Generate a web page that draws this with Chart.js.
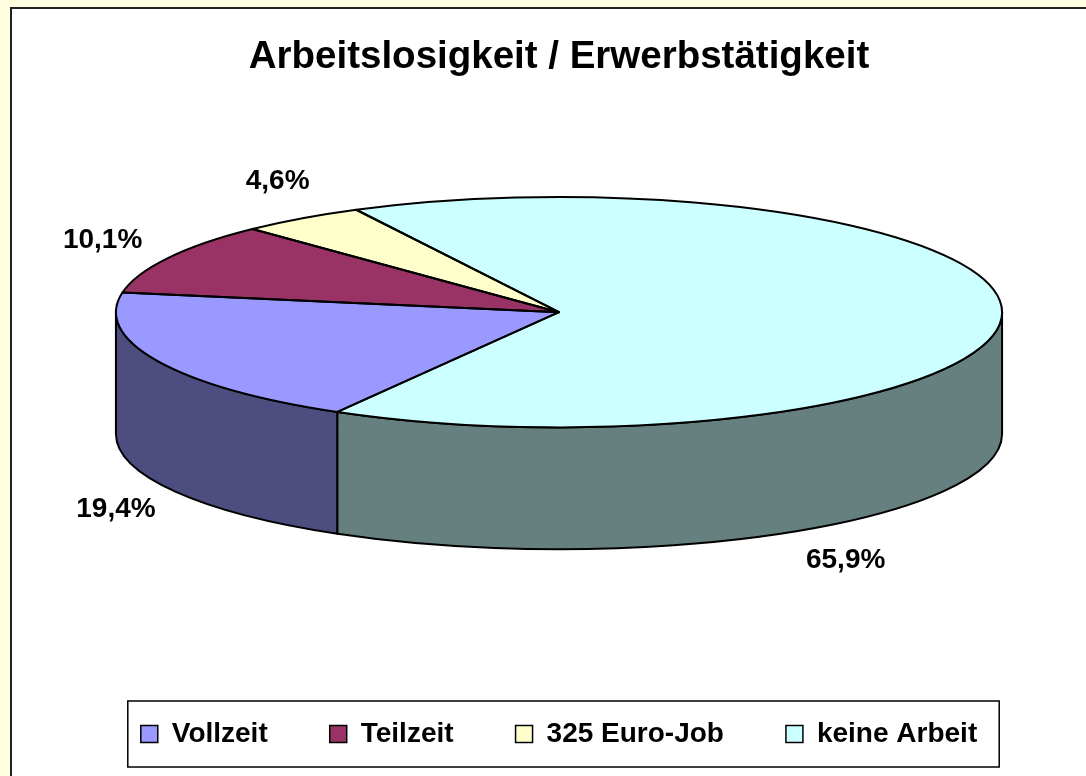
<!DOCTYPE html>
<html lang="de">
<head>
<meta charset="utf-8">
<title>Arbeitslosigkeit / Erwerbstätigkeit</title>
<script src="https://cdn.jsdelivr.net/npm/chart.js@4.4.1/dist/chart.umd.min.js"></script>
<style>
  html, body { margin: 0; padding: 0; background: #ffffe0; overflow: hidden; }
  #frame {
    position: absolute; left: 10px; top: 7px; width: 1074px; height: 767px;
    border-left: 2px solid #222; border-top: 2px solid #222; background: #fff;
  }
  canvas { display: block; }
</style>
</head>
<body>
<div id="frame"><canvas id="pie" width="1074" height="767"></canvas></div>
<script>
const categories = ["Vollzeit", "Teilzeit", "325 Euro-Job", "keine Arbeit"];
const shares = [19.4, 10.1, 4.6, 65.9];
const topColors = ["#9999ff", "#993366", "#ffffcc", "#ccffff"];
// where the percent labels sit, as fractions of the pie's x radius from its centre
const labelOffsets = [[-1.0, 0.445], [-1.03, -0.163], [-0.635, -0.295], [0.647, 0.56]];

const FONT = "'Liberation Sans', Arial, Helvetica, sans-serif";
const pieSpan = 0.857;    // share of the chart area width the pie takes
const tilt = 0.26;        // ry / rx of the top face
const depthRatio = 0.275; // height of the side / rx
const TAU = Math.PI * 2;

function darken(hex, f) {
  let n = parseInt(hex.slice(1), 16);
  let r = Math.round((n >> 16 & 255) * f);
  let g = Math.round((n >> 8 & 255) * f);
  let b = Math.round((n & 255) * f);
  return `rgb(${r},${g},${b})`;
}

function pieGeometry(chart) {
  let arc = chart.getDatasetMeta(0).data[0];
  let area = chart.chartArea;
  let rx = area.width / 2 * pieSpan;
  let depth = rx * depthRatio;
  return {
    arc, rx, depth,
    ry: rx * tilt,
    cx: arc.x,
    cy: (area.top + area.bottom) / 2 - depth / 2
  };
}

const pie3d = {
  id: "pie3d",
  beforeDatasetsDraw(chart) {
    let ctx = chart.ctx;
    let g = pieGeometry(chart);
    let arcs = chart.getDatasetMeta(0).data;

    // side walls: only the front half (0..PI) can be seen
    ctx.save();
    ctx.lineWidth = 2;
    ctx.strokeStyle = "#000";
    ctx.lineJoin = "round";
    arcs.forEach((a, i) => {
      let from = a.startAngle, to = a.endAngle;
      for (let k = Math.floor(from / TAU) - 1; k <= Math.ceil(to / TAU); k++) {
        let s = Math.max(from, k * TAU);
        let e = Math.min(to, k * TAU + Math.PI);
        if (e <= s) continue;
        ctx.beginPath();
        ctx.ellipse(g.cx, g.cy, g.rx, g.ry, 0, s, e);
        ctx.ellipse(g.cx, g.cy + g.depth, g.rx, g.ry, 0, e, s, true);
        ctx.closePath();
        ctx.fillStyle = darken(topColors[i], 0.5);
        ctx.fill();
        ctx.stroke();
      }
    });
    ctx.restore();

    // squash the flat pie into the top face
    ctx.save();
    ctx.translate(g.cx, g.cy);
    ctx.scale(g.rx / g.arc.outerRadius, g.ry / g.arc.outerRadius);
    ctx.translate(-g.arc.x, -g.arc.y);
  },
  afterDatasetsDraw(chart) {
    let ctx = chart.ctx;
    ctx.restore();
    let g = pieGeometry(chart);
    let arcs = chart.getDatasetMeta(0).data;

    ctx.save();
    ctx.lineWidth = 2;
    ctx.strokeStyle = "#000";
    ctx.lineJoin = "round";
    arcs.forEach(a => {
      ctx.beginPath();
      ctx.moveTo(g.cx, g.cy);
      ctx.ellipse(g.cx, g.cy, g.rx, g.ry, 0, a.startAngle, a.endAngle);
      ctx.closePath();
      ctx.stroke();
    });

    ctx.fillStyle = "#000";
    ctx.font = `bold 28px ${FONT}`;
    ctx.textAlign = "center";
    ctx.textBaseline = "middle";
    shares.forEach((v, i) => {
      let txt = v.toFixed(1).replace(".", ",") + "%";
      ctx.fillText(txt, g.cx + labelOffsets[i][0] * g.rx, g.cy + labelOffsets[i][1] * g.rx);
    });
    ctx.restore();
  },
  afterDraw(chart) {
    // frame round the legend
    let boxes = chart.legend.legendHitBoxes;
    if (!boxes || !boxes.length) return;
    let first = boxes[0], last = boxes[boxes.length - 1];
    let left = first.left - 13;
    let right = last.left + last.width + 22;
    let mid = first.top + first.height / 2;
    let ctx = chart.ctx;
    ctx.save();
    ctx.strokeStyle = "#000";
    ctx.lineWidth = 1.5;
    ctx.strokeRect(left, mid - 33, right - left, 66);
    ctx.restore();
  }
};

const baseLabels = (Chart.overrides.pie || Chart.overrides.doughnut).plugins.legend.labels.generateLabels;

new Chart(document.getElementById("pie"), {
  type: "pie",
  data: {
    labels: categories,
    datasets: [{
      data: shares,
      backgroundColor: topColors,
      borderWidth: 0
    }]
  },
  options: {
    responsive: false,
    animation: false,
    events: [],
    rotation: 210,
    layout: { padding: { left: 30, right: 10, top: 0, bottom: 18 } },
    plugins: {
      title: {
        display: true,
        text: "Arbeitslosigkeit / Erwerbstätigkeit",
        color: "#000",
        font: { family: FONT, size: 38.5, weight: "bold" },
        padding: { top: 25, bottom: 8 }
      },
      legend: {
        position: "bottom",
        labels: {
          color: "#000",
          font: { family: FONT, size: 28, weight: "bold" },
          boxWidth: 17,
          boxHeight: 17,
          padding: 62,
          generateLabels(chart) {
            return baseLabels(chart).map(l => Object.assign(l, { strokeStyle: "#000", lineWidth: 1.5 }));
          }
        }
      },
      tooltip: { enabled: false }
    }
  },
  plugins: [pie3d]
});
</script>
</body>
</html>
